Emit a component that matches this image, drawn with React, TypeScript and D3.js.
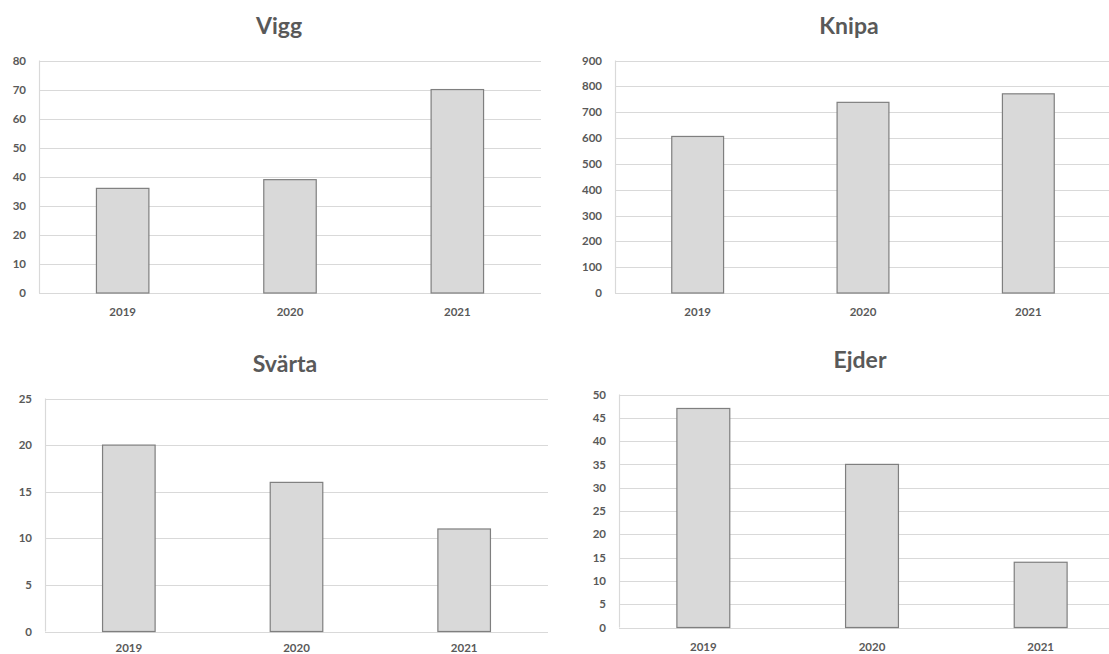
import React from "react";
import * as d3 from "d3";

// Yearly counts per species
const years = ["2019", "2020", "2021"];
const viggValues = [36, 39, 70];
const knipaValues = [606, 738, 771];
const svartaValues = [20, 16, 11];
const ejderValues = [47, 35, 14];

// Y-axis tick labels per panel
const viggTicks = [0, 10, 20, 30, 40, 50, 60, 70, 80];
const knipaTicks = [0, 100, 200, 300, 400, 500, 600, 700, 800, 900];
const svartaTicks = [0, 5, 10, 15, 20, 25];
const ejderTicks = [0, 5, 10, 15, 20, 25, 30, 35, 40, 45, 50];

const titles = ["Vigg", "Knipa", "Svärta", "Ejder"];

type Frame = {
  left: number;
  right: number;
  top: number;
  bottom: number;
  titleX: number;
  titleY: number;
  labelRight: number;
};

const frames: Frame[] = [
  { left: 39, right: 541, top: 60.5, bottom: 293, titleX: 279, titleY: 33.5, labelRight: 26 },
  { left: 615, right: 1111, top: 60.5, bottom: 293, titleX: 849, titleY: 33.5, labelRight: 602 },
  { left: 45, right: 548, top: 398.5, bottom: 631.5, titleX: 285, titleY: 371.5, labelRight: 32 },
  { left: 619, right: 1125, top: 394.5, bottom: 627.5, titleX: 860, titleY: 367.5, labelRight: 606 },
];

const panels = [
  { title: titles[0], values: viggValues, ticks: viggTicks },
  { title: titles[1], values: knipaValues, ticks: knipaTicks },
  { title: titles[2], values: svartaValues, ticks: svartaTicks },
  { title: titles[3], values: ejderValues, ticks: ejderTicks },
];

const FONT = "Lato, 'Open Sans', sans-serif";
const TEXT = "#595959";
const GRID = "#d9d9d9";
const HEIGHT = 654;

function Panel({ title, values, ticks, f }: { title: string; values: number[]; ticks: number[]; f: Frame }) {
  const x = d3.scaleBand<string>().domain(years).range([f.left, f.right]).paddingInner(0).paddingOuter(0);
  const y = d3.scaleLinear().domain([0, ticks[ticks.length - 1]]).range([f.bottom, f.top]);
  const bw = x.bandwidth() * 0.3135;
  const labelY = Math.min(f.bottom + 23, HEIGHT - 2);
  return (
    <g>
      <text x={f.titleX} y={f.titleY} textAnchor="middle" fontFamily={FONT} fontWeight={700} fontSize={23} fill={TEXT}>
        {title}
      </text>
      {ticks.map((t) => (
        <g key={t}>
          <line x1={f.left} x2={f.right} y1={Math.round(y(t)) + 0.5} y2={Math.round(y(t)) + 0.5} stroke={GRID} strokeWidth={1.2} />
          <text x={f.labelRight} y={y(t)} dy="0.36em" textAnchor="end" fontFamily={FONT} fontWeight={700} fontSize={11.5} fill={TEXT}>
            {t}
          </text>
        </g>
      ))}
      <line x1={f.left + 0.5} x2={f.left + 0.5} y1={f.top} y2={f.bottom} stroke={GRID} strokeWidth={1.2} />
      {years.map((yr, i) => {
        const cx = (x(yr) as number) + x.bandwidth() / 2;
        return (
          <g key={yr}>
            <rect
              x={cx - bw / 2}
              y={y(values[i])}
              width={bw}
              height={f.bottom - y(values[i])}
              fill="#d9d9d9"
              stroke="#7f7f7f"
              strokeWidth={1.2}
            />
            <text x={cx} y={labelY} textAnchor="middle" fontFamily={FONT} fontWeight={700} fontSize={11.5} fill={TEXT}>
              {yr}
            </text>
          </g>
        );
      })}
    </g>
  );
}

export default function App() {
  return (
    <svg
      width={1109}
      height={HEIGHT}
      style={{ position: "absolute", left: 0, top: 0, display: "block", background: "#fff" }}
    >
      <rect width={1109} height={HEIGHT} fill="#fff" />
      {panels.map((p, i) => (
        <Panel key={p.title} title={p.title} values={p.values} ticks={p.ticks} f={frames[i]} />
      ))}
    </svg>
  );
}
